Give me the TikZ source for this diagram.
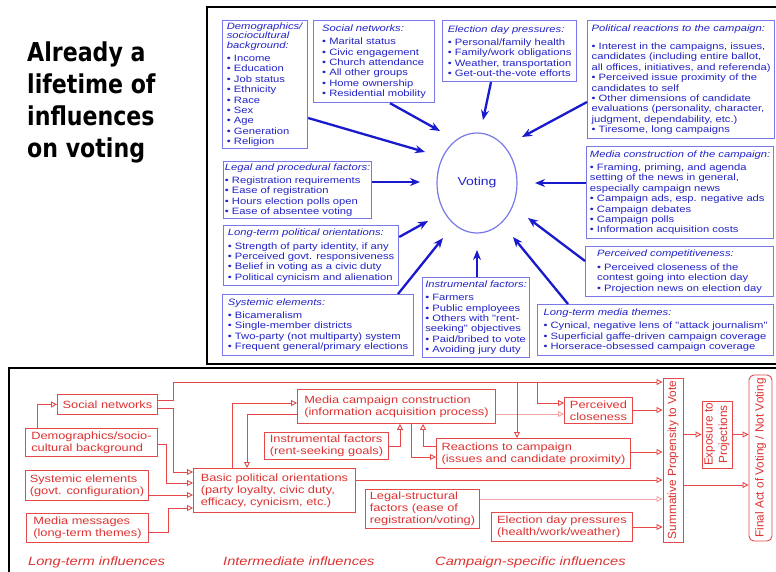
\documentclass[tikz,border=0pt]{standalone}
\usepackage{fontspec}
\usetikzlibrary{arrows.meta,shapes.geometric}

\newfontfamily\widefam[FakeStretch=1.22]{Liberation Sans}
\newfontfamily\plainfam{Liberation Sans}
\newfontfamily\titlefam[FakeStretch=0.85]{DejaVu Sans}

\definecolor{boxblue}{RGB}{120,120,232}
\definecolor{txtblue}{RGB}{35,35,200}
\definecolor{arrblue}{RGB}{25,25,205}
\definecolor{rline}{RGB}{228,72,72}
\definecolor{rtext}{RGB}{222,50,50}
\definecolor{rpale}{RGB}{240,165,165}

\newcommand\bluetxt{\widefam\fontsize{9.2}{10.4}\selectfont}
\newcommand\redtxt{\widefam\fontsize{10.5}{12}\selectfont}
\newcommand\rottxt{\plainfam\fontsize{11.8}{14.6}\selectfont}
\newcommand\hd[2][3pt]{\textit{#2}\\[#1]}

\tikzset{
  bbox/.style={draw=boxblue, line width=1.2pt, text=txtblue, font=\bluetxt,
    align=left, anchor=north west, inner sep=0pt},
  barrow/.style={-{Stealth[length=10pt,width=8pt]}, line width=2.3pt, draw=arrblue},
  rbox/.style={draw=rline, line width=0.9pt, text=rtext, font=\redtxt,
    align=left, anchor=north west, inner sep=0pt},
  rarr/.style={-{Triangle[open,length=6pt,width=6pt]}, draw=rline, line width=0.9pt},
  rpalearr/.style={rarr, draw=rpale},
  grouplabel/.style={anchor=base west, text=rtext, inner sep=0pt,
    font=\widefam\fontsize{12}{14}\selectfont\itshape},
}

\begin{document}
\begin{tikzpicture}[x=1pt, y=-1pt]
  \clip (0,0) rectangle (776,572);
  \fill[white] (0,0) rectangle (776,572);
  \node[anchor=north west, align=left, inner sep=0pt,
    font=\titlefam\bfseries\fontsize{26}{32}\selectfont] (title) at (27,42)
    {Already a\\lifetime of\\influences\\on voting};

  \draw[line width=1.3pt] (207,7) rectangle (800,364);
  \draw[line width=1.3pt] (9,368) rectangle (800,600);

  \node[ellipse, draw=boxblue, line width=1.2pt, minimum width=80, minimum height=100,
    text=txtblue, font=\widefam\fontsize{11.5}{13}\selectfont] (voting) at (477,183) {Voting};

  \node[bbox, minimum width=85, minimum height=128] (demo) at (222,20)
    {\textit{Demographics/}\\[-1pt]\textit{sociocultural}\\[-1pt]\hd{background:}
     • Income\\• Education\\• Job status\\• Ethnicity\\• Race\\• Sex\\• Age\\• Generation\\• Religion};
  \node[bbox, minimum width=121, minimum height=82] (social) at (313,20)
    {\hd{Social networks:}
     • Marital status\\• Civic engagement\\• Church attendance\\• All other groups\\
     • Home ownership\\• Residential mobility};
  \node[bbox, minimum width=134, minimum height=61] (eday) at (442,20)
    {\hd{Election day pressures:}
     • Personal/family health\\• Family/work obligations\\• Weather, transportation\\
     • Get-out-the-vote efforts};
  \node[bbox, minimum width=187, minimum height=118] (polreact) at (587,20)
    {\hd[8pt]{Political reactions to the campaign:}
     • Interest in the campaigns, issues,\\candidates (including entire ballot,\\
     all offices, initiatives, and referenda)\\• Perceived issue proximity of the\\
     candidates to self\\• Other dimensions of candidate\\
     evaluations (personality, character,\\judgment, dependability, etc.)\\
     • Tiresome, long campaigns};
  \node[bbox, minimum width=148, minimum height=57] (legal) at (223,161)
    {\hd{Legal and procedural factors:}
     • Registration requirements\\• Ease of registration\\• Hours election polls open\\
     • Ease of absentee voting};
  \node[bbox, minimum width=175, minimum height=60] (ltpol) at (223,225)
    {\hd{Long-term political orientations:}
     • Strength of party identity, if any\\• Perceived govt. responsiveness\\
     • Belief in voting as a civic duty\\• Political cynicism and alienation};
  \node[bbox, minimum width=191, minimum height=61] (systemic) at (222,294)
    {\hd{Systemic elements:}
     • Bicameralism\\• Single-member districts\\• Two-party (not multiparty) system\\
     • Frequent general/primary elections};
  \node[bbox, minimum width=107, minimum height=80] (instr) at (422,277)
    {\hd{Instrumental factors:}
     • Farmers\\• Public employees\\• Others with "rent-\\seeking" objectives\\
     • Paid/bribed to vote\\• Avoiding jury duty};
  \node[bbox, minimum width=187, minimum height=92] (media) at (586,146)
    {\hd{Media construction of the campaign:}
     • Framing, priming, and agenda\\setting of the news in general,\\
     especially campaign news\\• Campaign ads, esp. negative ads\\
     • Campaign debates\\• Campaign polls\\• Information acquisition costs};
  \node[bbox, minimum width=188, minimum height=50] (percomp) at (585,246)
    {\hd{Perceived competitiveness:}
     • Perceived closeness of the\\contest going into election day\\
     • Projection news on election day};
  \node[bbox, minimum width=236, minimum height=51] (ltmedia) at (537,304)
    {\hd{Long-term media themes:}
     • Cynical, negative lens of "attack journalism"\\
     • Superficial gaffe-driven campaign coverage\\
     • Horserace-obsessed campaign coverage};

  \draw[barrow] (demo.east |- 0,118) -- ([shift={(-52,-31)}]voting.center);
  \draw[barrow] (social.south -| 390,0) -- ([shift={(-37,-52)}]voting.center);
  \draw[barrow] (eday.south -| 491,0) -- ([shift={(6,-63)}]voting.center);
  \draw[barrow] (polreact.west |- 0,102) -- ([shift={(45,-46)}]voting.center);
  \draw[barrow] (legal.east |- 0,182) -- ([shift={(-57,-1)}]voting.center);
  \draw[barrow] (ltpol.east |- 0,237) -- ([shift={(-49,38)}]voting.center);
  \draw[barrow] (systemic.north -| 398,0) -- ([shift={(-34,55)}]voting.center);
  \draw[barrow] (instr.north -| voting.center) -- ([shift={(0,67)}]voting.center);
  \draw[barrow] (media.west |- 0,183) -- ([shift={(58,0)}]voting.center);
  \draw[barrow] (percomp.west |- 0,261) -- ([shift={(51,35)}]voting.center);
  \draw[barrow] (ltmedia.north -| 568,0) -- ([shift={(36,54)}]voting.center);

  \node[rbox, minimum width=100, minimum height=20] (rsocial) at (57,394) {Social networks};
  \node[rbox, minimum width=132, minimum height=28] (rdemo) at (25,428)
    {Demographics/socio-\\cultural background};
  \node[rbox, minimum width=123, minimum height=30] (rsys) at (25,470)
    {Systemic elements\\(govt. configuration)};
  \node[rbox, minimum width=122, minimum height=29] (rmedia) at (26,513)
    {Media messages\\(long-term themes)};
  \node[rbox, minimum width=162, minimum height=44] (basic) at (193,468)
    {Basic political orientations\\(party loyalty, civic duty,\\efficacy, cynicism, etc.)};
  \node[rbox, minimum width=198, minimum height=34] (mcc) at (297,389)
    {Media campaign construction\\(information acquisition process)};
  \node[rbox, minimum width=124, minimum height=27] (rinstr) at (264,432)
    {Instrumental factors\\(rent-seeking goals)};
  \node[rbox, minimum width=194, minimum height=30] (react) at (436,438)
    {Reactions to campaign\\(issues and candidate proximity)};
  \node[rbox, minimum width=68, minimum height=26] (closeness) at (564,397)
    {Perceived\\closeness};
  \node[rbox, minimum width=114, minimum height=39] (legalr) at (365,489)
    {Legal-structural\\factors (ease of\\registration/voting)};
  \node[rbox, minimum width=141, minimum height=29] (edayr) at (491,512)
    {Election day pressures\\(health/work/weather)};
  \node[rbox, rotate=90, anchor=center, minimum width=164, minimum height=20,
    font=\rottxt] (summ) at (673,460) {Summative Propensity to Vote};
  \node[rbox, rotate=90, anchor=center, minimum width=67, minimum height=30,
    font=\rottxt, align=center] (expo) at (717,434.5) {Exposure to\\Projections};
  \node[rbox, rotate=90, anchor=center, rounded corners=5pt, minimum width=166,
    minimum height=23, font=\rottxt] (final) at (760.5,458) {Final Act of Voting / Not Voting};

  \coordinate (j1) at (537,382);
  \coordinate (j2) at (517,382);
  \draw[rarr] (rdemo.north -| 37,0) |- (rsocial.west);
  \draw[rarr] (rsocial.east |- 0,400) -| (173,382) -- (summ.north |- 0,382);
  \draw[rarr] (rsocial.east |- 0,408) -| (173,472) -- (basic.west |- 0,472);
  \draw[rarr] (rdemo.east |- 0,444) -| (166,483) -- (basic.west |- 0,483);
  \draw[rarr] (rsys.east |- 0,495) -- (basic.west |- 0,495);
  \draw[rarr] (rmedia.east |- 0,532) -| (168,508) -- (basic.west |- 0,508);
  \draw[rarr] (basic.north -| 232,0) |- (mcc.west |- 0,403);
  \draw[rarr] (mcc.west |- 0,414) -| (basic.north -| 247,0);
  \draw[rarr] (rinstr.east |- 0,446) -| (mcc.south -| 400,0);
  \draw[rarr] (react.west |- 0,446) -| (mcc.south -| 423,0);
  \draw[rarr] (mcc.south -| 411,0) |- (react.west |- 0,457);
  \draw[rpalearr] (mcc.east |- 0,414) -- (closeness.west |- 0,414);
  \draw[rarr] (j1) |- (closeness.west |- 0,403);
  \draw[rarr] (j2) -- (react.north -| j2);
  \draw[rarr] (closeness.east |- 0,410) -- (summ.north |- 0,410);
  \draw[rarr] (react.east |- 0,452) -- (summ.north |- 0,452);
  \draw[rarr] (basic.east |- 0,480) -- (summ.north |- 0,480);
  \draw[rpalearr] (legalr.east |- 0,499) -- (summ.north |- 0,499);
  \draw[rarr] (edayr.east |- 0,527) -- (summ.north |- 0,527);
  \draw[rarr] (summ.south |- expo.center) -- (expo.north);
  \draw[rarr] (expo.south) -- (final.north |- expo.center);
  \draw[rarr] (summ.south |- 0,485) -- (final.north |- 0,485);

  \node[grouplabel] (ltlabel) at (28,565) {Long-term influences};
  \node[grouplabel] (imlabel) at (223,565) {Intermediate influences};
  \node[grouplabel] (cslabel) at (435,565) {Campaign-specific influences};
\end{tikzpicture}
\end{document}
